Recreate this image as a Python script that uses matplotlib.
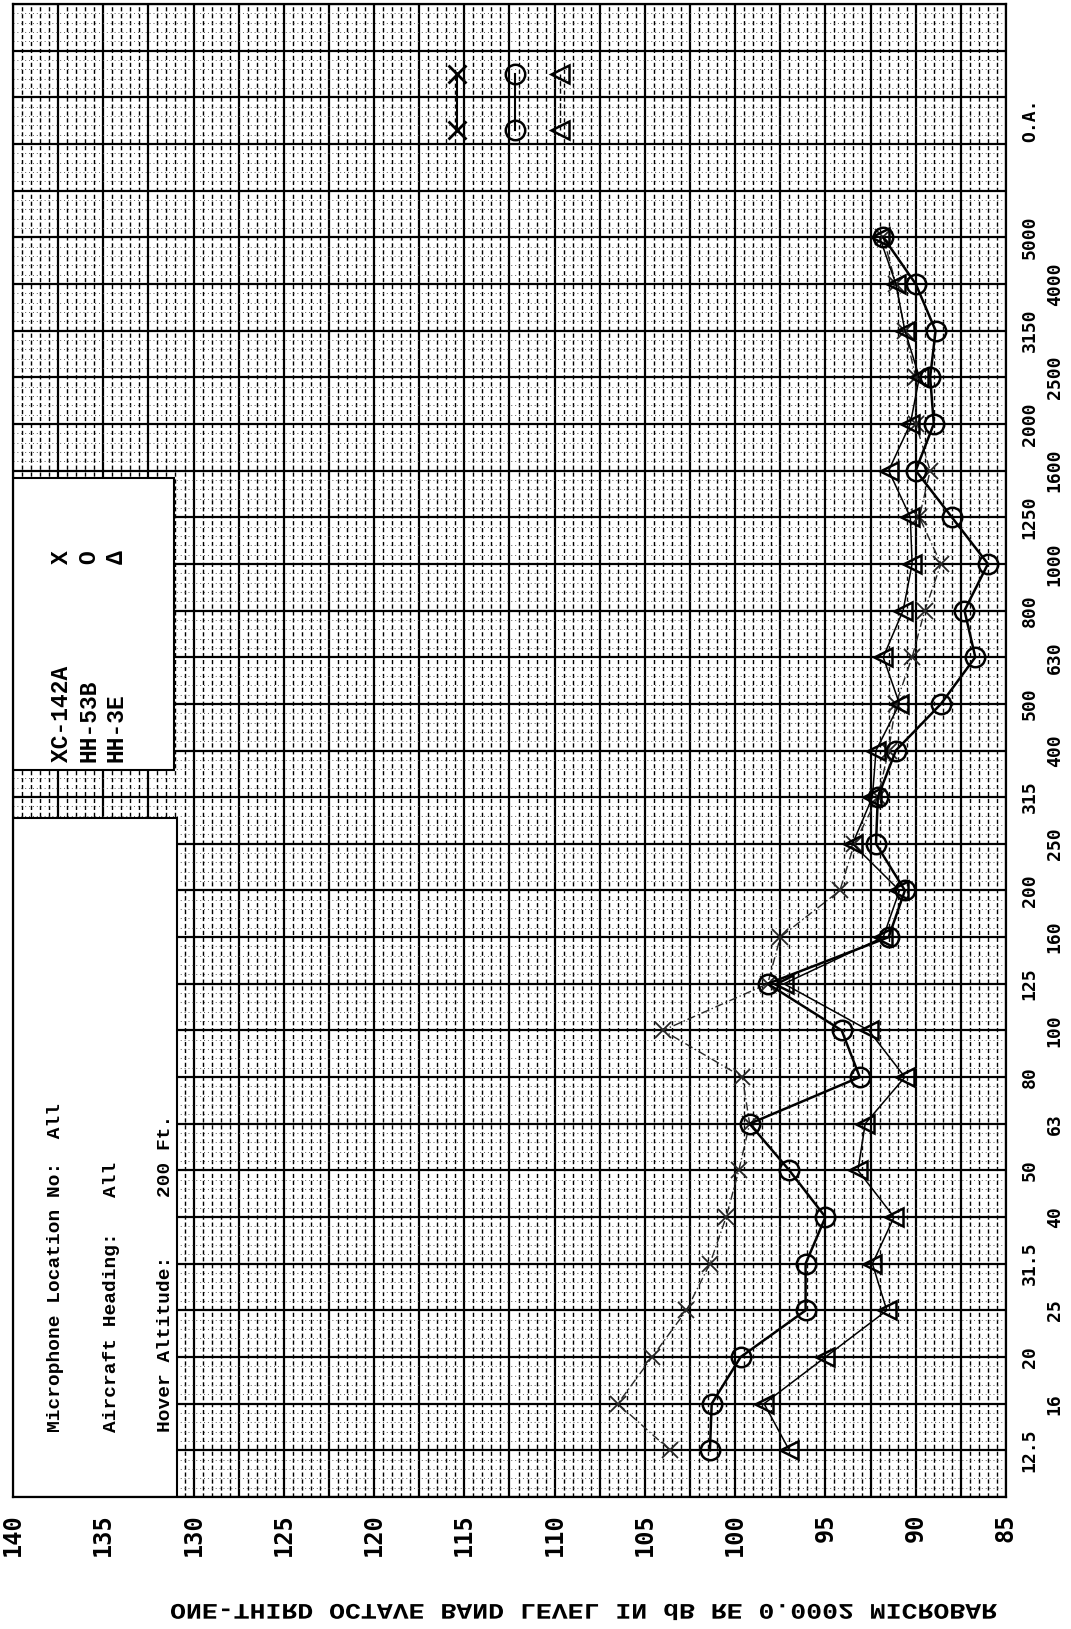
import matplotlib
matplotlib.use('Agg')
import matplotlib.pyplot as plt
import matplotlib.transforms as mtransforms
import numpy as np
from matplotlib.patches import Rectangle, PathPatch
from matplotlib.textpath import TextPath
from matplotlib.font_manager import FontProperties

# Data: one-third octave band levels (dB re 0.0002 microbar)
bands = ['12.5', '16', '20', '25', '31.5', '40', '50', '63', '80', '100',
         '125', '160', '200', '250', '315', '400', '500', '630', '800', '1000',
         '1250', '1600', '2000', '2500', '3150', '4000', '5000']

xc142a = [103.6, 106.5, 104.6, 102.7, 101.4, 100.5, 99.8, 99.2, 99.6, 104.0,
          98.2, 97.5, 94.2, 93.4, 92.1, 91.5, 91.1, 90.2, 89.5, 88.6,
          89.8, 89.2, 90.0, 90.0, 90.6, 91.1, 91.8]
hh53b = [101.4, 101.3, 99.7, 96.1, 96.1, 95.0, 97.0, 99.2, 93.1, 94.1,
         98.2, 91.5, 90.6, 92.2, 92.1, 91.1, 88.6, 86.7, 87.3, 86.0,
         88.0, 90.0, 89.0, 89.2, 88.9, 90.0, 91.8]
hh3e = [97.0, 98.4, 95.0, 91.6, 92.4, 91.2, 93.2, 92.8, 90.6, 92.6,
        97.3, 91.8, 90.9, 93.5, 92.4, 92.2, 90.9, 91.8, 90.7, 90.2,
        90.3, 91.5, 90.3, 89.8, 90.6, 91.1, 92.0]

oa_label = 'O.A.'
oa_xc142a = 115.4
oa_hh53b = 112.2
oa_hh3e = 109.7

W, H = 1071, 1629
fig = plt.figure(figsize=(W / 100, H / 100), dpi=100)

def fx(x):
    return x / W

def fy(y):
    return 1 - y / H

# axes: dB runs horizontally (140 left -> 85 right), bands run upward
ax = fig.add_axes([fx(13), fy(1497), fx(1006) - fx(13), fy(4) - fy(1497)])
ax.set_xlim(140, 85)
ax.set_ylim(-1, 31)

idx = np.arange(len(bands))

# graph-paper grid
ax.set_xticks(np.arange(85, 140.01, 2.5))
ax.set_xticks(np.arange(85, 140.01, 0.5), minor=True)
ax.set_yticks(np.arange(-1, 31.01, 1))
ax.set_yticks(np.arange(-1, 31.01, 0.2), minor=True)
ax.set_axisbelow(True)
ax.grid(which='major', color='black', linewidth=1.6)
ax.grid(which='minor', axis='x', color='black', linewidth=1.0, linestyle=(0, (3, 2)))
ax.grid(which='minor', axis='y', color='0.35', linewidth=0.7, linestyle=(0, (1, 3)))
ax.tick_params(which='both', length=0)
ax.set_yticklabels([])

tick_font = FontProperties(family='DejaVu Sans Mono', weight='bold', size=17)
xlabels = [str(int(v)) if v % 5 == 0 else '' for v in np.arange(85, 140.01, 2.5)]
ax.set_xticklabels(xlabels, rotation=90, fontproperties=tick_font)
ax.tick_params(axis='x', pad=12)

for s in ax.spines.values():
    s.set_linewidth(1.6)

# white note boxes over the upper dB range
box_kw = dict(facecolor='white', edgecolor='black', linewidth=1.5, zorder=1)
ax.add_patch(Rectangle((140, 14.58), -8.9, 20.84 - 14.58, **box_kw))
ax.add_patch(Rectangle((140, -1), -9.1, 13.55 - (-1), **box_kw))

# series
ax.plot(xc142a, idx, color='0.15', linewidth=1.0, linestyle=(0, (6, 2, 1, 2)),
        marker='x', markersize=11, markeredgewidth=1.3, zorder=3)
ax.plot(hh53b, idx, color='black', linewidth=1.8, marker='o', markersize=14,
        markerfacecolor='none', markeredgewidth=1.8, zorder=3)
ax.plot(hh3e, idx, color='black', linewidth=1.1, marker='<', markersize=13,
        markerfacecolor='none', markeredgewidth=1.8, zorder=3)

# overall levels
oa_pos = [len(bands) + 1.3, len(bands) + 2.5]
ax.plot([oa_xc142a] * 2, oa_pos, color='black', linewidth=1.5, marker='x',
        markersize=13, markeredgewidth=2, zorder=3)
ax.plot([oa_hh53b] * 2, oa_pos, color='black', linewidth=1.5, marker='o',
        markersize=14, markerfacecolor='none', markeredgewidth=1.8, zorder=3)
ax.plot([oa_hh3e] * 2, oa_pos, color='black', linewidth=1.0, linestyle='--',
        marker='<', markersize=13, markerfacecolor='none', markeredgewidth=1.8, zorder=3)

# band labels in two staggered columns on the right
band_font = FontProperties(family='DejaVu Sans Mono', weight='bold', size=13)
trans = mtransforms.blended_transform_factory(ax.transAxes, ax.transData)
for i, lab in enumerate(bands):
    xa = 1.024 if i % 2 == 0 else 1.049
    ax.text(xa, i, lab, transform=trans, rotation=90, ha='center', va='center',
            fontproperties=band_font, clip_on=False)
ax.text(1.024, len(bands) + 1.5, oa_label, transform=trans, rotation=90,
        ha='center', va='center', fontproperties=band_font, clip_on=False)

# note texts
note_font = FontProperties(family=['Liberation Mono', 'DejaVu Sans Mono'], weight='bold', size=14)
notes = ['Microphone Location No:  All', 'Aircraft Heading:   All', 'Hover Altitude:     200 Ft.']
for x, t in zip([55, 111, 165], notes):
    fig.text(fx(x), fy(1432), t, rotation=90, rotation_mode='anchor', ha='left',
             va='center', fontproperties=note_font)

leg_font = FontProperties(family=['Liberation Mono', 'DejaVu Sans Mono'], weight='bold', size=16.5)
aircraft = ['XC-142A', 'HH-53B', 'HH-3E']
symbols = ['X', 'O', '\u0394']
for x, t, s in zip([62, 89, 116], aircraft, symbols):
    fig.text(fx(x), fy(762), t, rotation=90, rotation_mode='anchor', ha='left',
             va='center', fontproperties=leg_font)
    fig.text(fx(x), fy(557), s, rotation=90, rotation_mode='anchor', ha='center',
             va='center', fontproperties=leg_font)

# axis title, mirrored top-to-bottom as in the original print
ylab = 'ONE-THIRD OCTAVE BAND LEVEL IN dB RE 0.0002 MICROBAR'
tp = TextPath((0, 0), ylab, size=1, prop=FontProperties(family='Liberation Mono', weight='bold'))
bb = tp.get_extents()
sx = 826 / bb.width
sy = 13 / (bb.height * 0.8)
tr = (mtransforms.Affine2D().translate(-bb.x0, -(bb.y0 + bb.y1) / 2)
      .scale(sx, -sy).translate(171, H - 1612).scale(1 / W, 1 / H) + fig.transFigure)
fig.add_artist(PathPatch(tp, transform=tr, facecolor='black', edgecolor='none'))

plt.savefig('out.png', dpi=100)
